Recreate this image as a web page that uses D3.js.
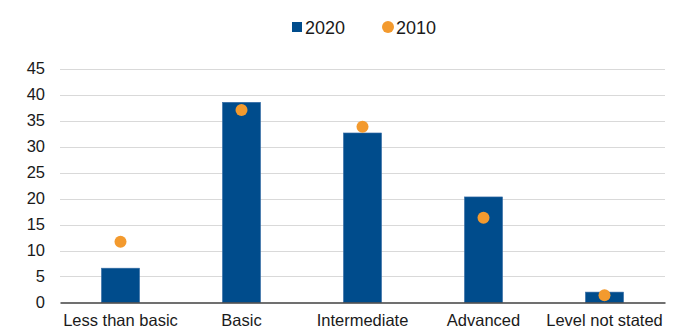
<!DOCTYPE html>
<html><head><meta charset="utf-8">
<script src="https://cdn.jsdelivr.net/npm/d3@7"></script>
<style>body{margin:0;background:#fff}text{font-family:"Liberation Sans",Arial,sans-serif;fill:#1a1a1a}</style>
</head><body><svg id="c" width="674" height="332"></svg>
<script>
const categories = ["Less than basic","Basic","Intermediate","Advanced","Level not stated"];
const values2020 = [6.6, 38.5, 32.6, 20.3, 2.0];
const values2010 = [11.7, 37.0, 33.8, 16.3, 1.4];
const yTicks = [0,5,10,15,20,25,30,35,40,45];
const seriesNames = ["2020","2010"];

const svg = d3.select("#c");
const x = d3.scaleBand().domain(categories).range([60,665]).paddingInner(0.685).paddingOuter(0.3425);
const y = d3.scaleLinear().domain([0,45]).range([302.5,68.5]);

svg.append("g").selectAll("line").data(yTicks.filter(d=>d>0)).join("line")
  .attr("x1",60).attr("x2",665).attr("y1",d=>Math.round(y(d))+0.5).attr("y2",d=>Math.round(y(d))+0.5)
  .attr("stroke","#d9d9d9").attr("stroke-width",1);

const ya = svg.append("g").attr("transform","translate(60,0)")
  .call(d3.axisLeft(y).tickValues(yTicks).tickSize(0).tickPadding(15));
ya.select(".domain").remove();
ya.selectAll("text").attr("font-size",16.5).attr("font-family","Liberation Sans, Arial, sans-serif").attr("fill","#1a1a1a");

svg.append("g").selectAll("rect").data(categories).join("rect")
  .attr("x",d=>x(d)).attr("width",x.bandwidth())
  .attr("y",(d,i)=>y(values2020[i])).attr("height",(d,i)=>y(0)-y(values2020[i]))
  .attr("fill","#004C8C").attr("stroke","#3a6fa8").attr("stroke-width",0.6);

const xa = svg.append("g").attr("transform",`translate(0,${y(0)})`)
  .call(d3.axisBottom(x).tickSize(0).tickPadding(12));
xa.select(".domain").attr("stroke","#404040").attr("stroke-width",1.5);
xa.selectAll("text").attr("font-size",16.5).attr("font-family","Liberation Sans, Arial, sans-serif").attr("fill","#1a1a1a");

svg.append("g").selectAll("circle").data(categories).join("circle")
  .attr("cx",d=>x(d)+x.bandwidth()/2).attr("cy",(d,i)=>y(values2010[i])).attr("r",6)
  .attr("fill","#F39A2E");

// legend
const lg = svg.append("g");
lg.append("rect").attr("x",292).attr("y",22).attr("width",10).attr("height",10).attr("fill","#004C8C");
lg.append("text").attr("x",305).attr("y",33.5).attr("font-size",18).text(seriesNames[0]);
lg.append("circle").attr("cx",388).attr("cy",27).attr("r",6).attr("fill","#F39A2E");
lg.append("text").attr("x",396).attr("y",33.5).attr("font-size",18).text(seriesNames[1]);
</script></body></html>
